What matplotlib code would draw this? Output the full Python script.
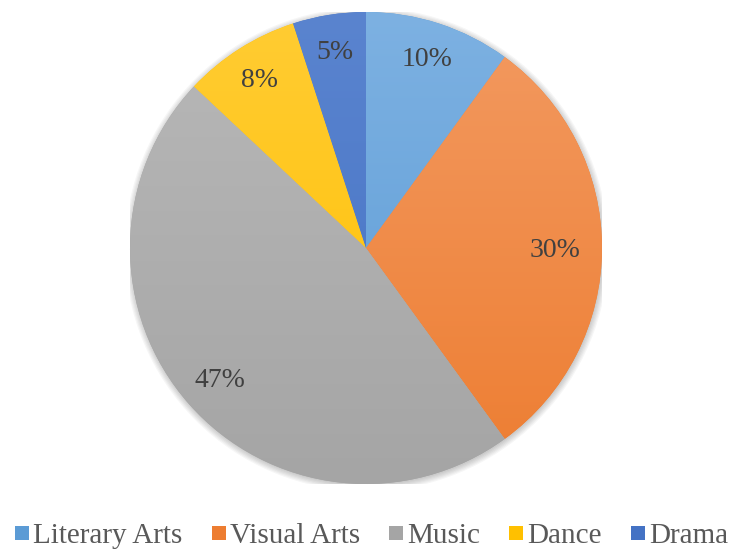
import numpy as np
import matplotlib

matplotlib.use("Agg")
import matplotlib.pyplot as plt
from matplotlib.colors import LinearSegmentedColormap
from matplotlib.lines import Line2D
from matplotlib.patches import Circle

plt.rcParams["font.family"] = ["Liberation Serif", "DejaVu Serif"]

categories = ["Literary Arts", "Visual Arts", "Music", "Dance", "Drama"]
shares = [10, 30, 47, 8, 5]
base_colors = ["#5B9BD5", "#ED7D31", "#A5A5A5", "#FFC000", "#4472C4"]
top_colors = ["#7DB1E2", "#F39A61", "#B8B8B8", "#FFCC33", "#5A84CF"]

fig = plt.figure(figsize=(7.31, 5.49), dpi=100)
cx, cy, rad = 366, 248, 236
ax = fig.add_axes([(cx - rad) / 731, (549 - cy - rad) / 549, 2 * rad / 731, 2 * rad / 549])

# soft shadow round the pie
for k in range(6):
    ax.add_patch(Circle((0.003, -0.006), 1.0 + 0.005 * k, color="#000000",
                        alpha=0.035, lw=0, zorder=0))

wedges, texts, autotexts = ax.pie(
    shares,
    colors=base_colors,
    startangle=90,
    counterclock=False,
    autopct="%d%%",
    pctdistance=0.84,
    wedgeprops={"linewidth": 0},
    textprops={"fontsize": 20, "color": "#404040"},
)
autotexts[1].set_position((0.80, -0.01))
autotexts[2].set_position((-0.62, -0.56))

# vertical gradient in each slice, lighter at the top
grad = np.linspace(1, 0, 256).reshape(-1, 1)
for w, top, bot in zip(wedges, top_colors, base_colors):
    cmap = LinearSegmentedColormap.from_list("g", [bot, top])
    im = ax.imshow(grad, cmap=cmap, extent=[-1, 1, -1, 1], origin="upper",
                   aspect="auto", zorder=w.get_zorder() + 0.1, vmin=0, vmax=1)
    im.set_clip_path(w)
for t in autotexts:
    t.set_zorder(5)

ax.set_xlim(-1, 1)
ax.set_ylim(-1, 1)
ax.axis("off")

handles = [Line2D([], [], marker="s", linestyle="", markersize=10.5,
                  markerfacecolor=c, markeredgewidth=0) for c in base_colors]
fig.legend(handles, categories, loc="center", bbox_to_anchor=(0.5 + 6 / 731, 1 - 536 / 549),
           ncol=5, frameon=False, fontsize=21, handlelength=0.5, handletextpad=0.12,
           columnspacing=1.0, labelcolor="#595959")

fig.savefig("out.png", dpi=100)
